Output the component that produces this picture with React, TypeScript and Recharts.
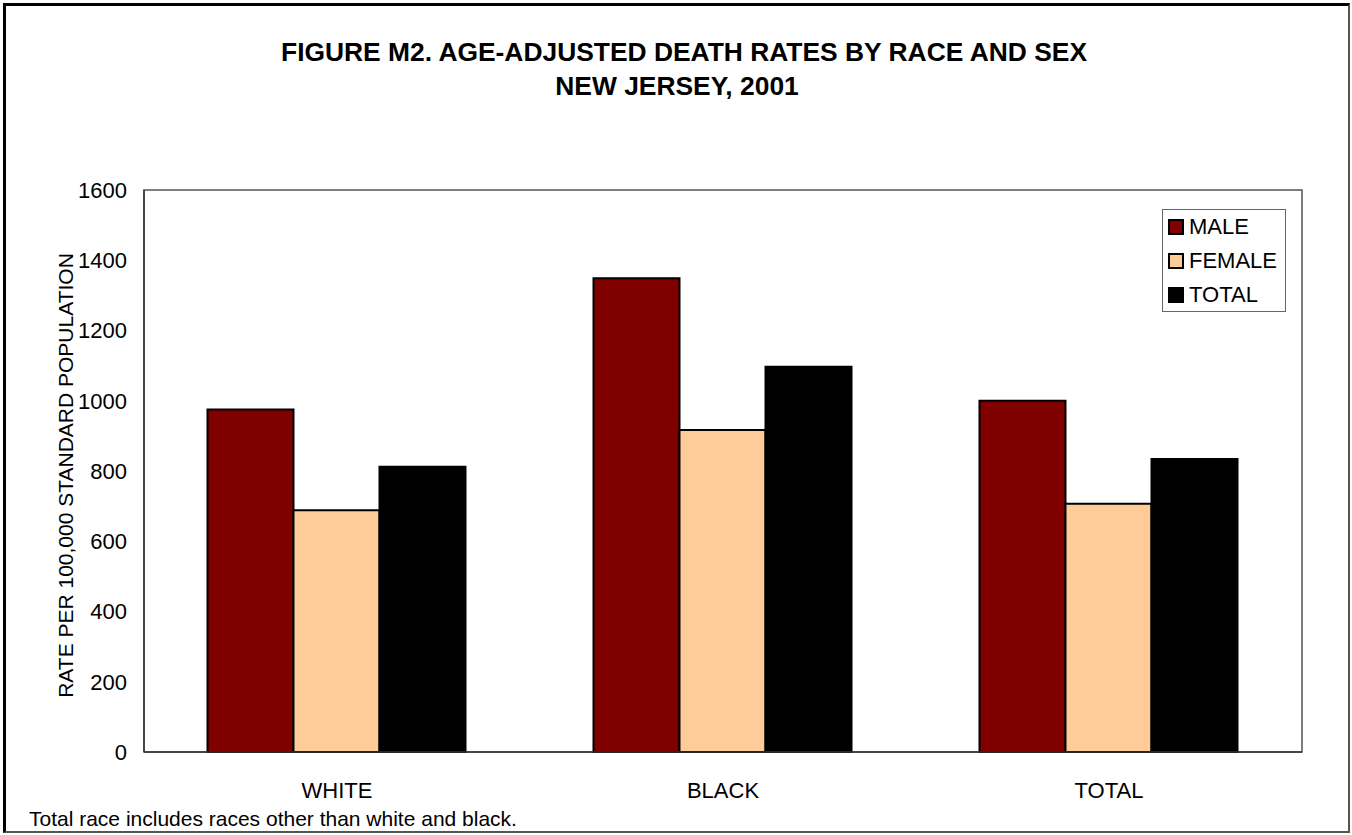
import React from 'react';
import { BarChart, Bar, XAxis, YAxis, Legend, ReferenceArea } from 'recharts';

const categories = ['WHITE', 'BLACK', 'TOTAL'];
const maleRates = [975, 1349, 1000];
const femaleRates = [688, 917, 707];
const totalRates = [812, 1097, 834];
const yTicks = [0, 200, 400, 600, 800, 1000, 1200, 1400, 1600];
const seriesNames = ['MALE', 'FEMALE', 'TOTAL'];
const seriesColors = ['#800000', '#FFCC99', '#000000'];

const titleLines = ['FIGURE M2. AGE-ADJUSTED DEATH RATES BY RACE AND SEX', 'NEW JERSEY, 2001'];
const yLabel = 'RATE PER 100,000 STANDARD POPULATION';
const footnote = 'Total race includes races other than white and black.';

const data = categories.map((c, i) => ({
  race: c,
  [seriesNames[0]]: maleRates[i],
  [seriesNames[1]]: femaleRates[i],
  [seriesNames[2]]: totalRates[i],
}));

const FONT = '"Liberation Sans", Arial, Helvetica, sans-serif';

const LegendBox = (props: any) => {
  const payload = [...(props.payload || [])].sort(
    (a: any, b: any) => seriesNames.indexOf(a.value) - seriesNames.indexOf(b.value)
  );
  return (
    <div
      style={{
        border: '1px solid #666',
        background: '#fff',
        width: 124,
        height: 103,
        boxSizing: 'border-box',
        fontFamily: FONT,
        fontSize: 22,
        color: '#000',
      }}
    >
      {payload.map((p: any) => (
        <div key={p.value} style={{ height: 34, display: 'flex', alignItems: 'center', paddingLeft: 5 }}>
          <span
            style={{
              display: 'inline-block',
              width: 16,
              height: 16,
              boxSizing: 'border-box',
              border: '2px solid #000',
              background: p.color,
              marginRight: 5,
            }}
          />
          <span style={{ lineHeight: '22px' }}>{p.value}</span>
        </div>
      ))}
    </div>
  );
};

export default function App() {
  return (
    <div style={{ position: 'absolute', left: 0, top: 0, width: 1352, height: 835, background: '#fff', fontFamily: FONT }}>
      <div
        style={{
          position: 'absolute',
          left: 3,
          top: 3,
          width: 1347,
          height: 830,
          boxSizing: 'border-box',
          borderLeft: '3px solid #000',
          borderTop: '3px solid #000',
          borderRight: '2px solid #555',
          borderBottom: '2px solid #555',
        }}
      />
      <div style={{ position: 'absolute', left: 0, top: 0 }}>
        <BarChart
          width={1352}
          height={835}
          data={data}
          margin={{ top: 190, right: 50, bottom: 43, left: 64 }}
          barCategoryGap="16.45%"
          barGap={0}
        >
          <XAxis
            dataKey="race"
            height={40}
            axisLine={{ stroke: '#333', strokeWidth: 1.5 }}
            tickLine={false}
            tickSize={14}
            tickMargin={16}
            tick={{ fill: '#000', fontSize: 22, fontFamily: FONT }}
          />
          <YAxis
            width={80}
            domain={[0, 1600]}
            ticks={yTicks}
            interval={0}
            axisLine={{ stroke: '#333', strokeWidth: 1.5 }}
            tickLine={false}
            tickSize={8}
            tickMargin={9}
            tick={{ fill: '#000', fontSize: 22, fontFamily: FONT }}
          />
          <ReferenceArea
            y1={0}
            y2={1600}
            fill="none"
            fillOpacity={0}
            stroke="#555"
            strokeWidth={1.5}
            ifOverflow="visible"
          />
          <Legend
            layout="vertical"
            align="center"
            verticalAlign="middle"
            content={<LegendBox />}
            wrapperStyle={{ left: 1162, top: 209, width: 124, height: 103 }}
          />
          {seriesNames.map((name, i) => (
            <Bar
              key={name}
              dataKey={name}
              fill={seriesColors[i]}
              stroke="#000"
              strokeWidth={2}
              isAnimationActive={false}
            />
          ))}
        </BarChart>
      </div>
      <svg
        width={1352}
        height={835}
        style={{ position: 'absolute', left: 0, top: 0, pointerEvents: 'none' }}
      >
        <text x={684} y={61} textAnchor="middle" fontFamily={FONT} fontSize={26.4} fontWeight="bold" fill="#000">
          {titleLines[0]}
        </text>
        <text x={677} y={95} textAnchor="middle" fontFamily={FONT} fontSize={26.4} fontWeight="bold" fill="#000">
          {titleLines[1]}
        </text>
        <text
          x={73}
          y={475.5}
          textAnchor="middle"
          transform="rotate(-90 73 475.5)"
          fontFamily={FONT}
          fontSize={21}
          fill="#000"
        >
          {yLabel}
        </text>
        <text x={29} y={826} fontFamily={FONT} fontSize={21} fill="#000">
          {footnote}
        </text>
      </svg>
    </div>
  );
}
